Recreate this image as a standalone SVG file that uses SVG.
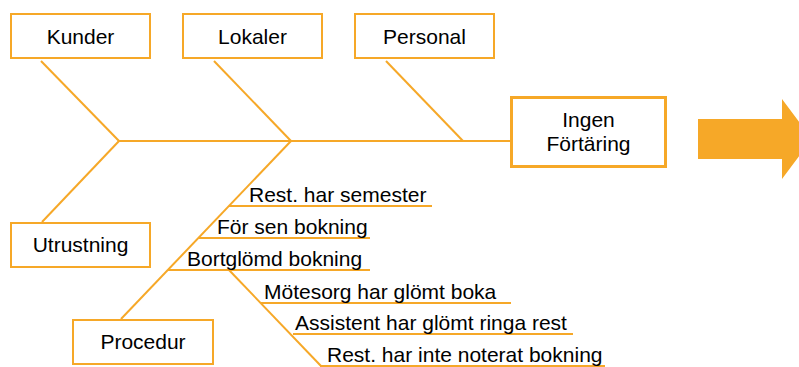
<svg xmlns="http://www.w3.org/2000/svg" width="799" height="367" viewBox="0 0 799 367">
  <style>
    .box { fill: #ffffff; stroke: #F6A828; stroke-width: 2; }
    .effect { fill: #ffffff; stroke: #F6A828; stroke-width: 3; }
    .bone { fill: none; stroke: #F6A828; stroke-width: 2; }
    .label { font-family: "Liberation Sans", Arial, sans-serif; font-size: 21px; fill: #000000; }
    .mid { text-anchor: middle; }
  </style>
  <rect width="799" height="367" fill="#ffffff"/>

  <!-- connectors: spine, category bones and cause branches -->
  <g id="connectors" class="bone">
    <line x1="119" y1="141" x2="510" y2="141"/>
    <line x1="41" y1="61" x2="119" y2="141"/>
    <line x1="214" y1="61" x2="291" y2="141"/>
    <line x1="386" y1="61" x2="463" y2="141"/>
    <line x1="42" y1="222" x2="119" y2="141"/>
    <line x1="121" y1="319" x2="291" y2="141"/>
    <!-- causes under Procedur -->
    <polyline points="229,206 432,206"/>
    <polyline points="199,238 370,238"/>
    <polyline points="168,270 370,270"/>
    <!-- sub-causes of Bortglömd bokning -->
    <line x1="229" y1="270" x2="321" y2="366"/>
    <polyline points="261,303 511,303"/>
    <polyline points="293,334 573,334"/>
    <polyline points="320,366 605,366"/>
  </g>

  <g id="kunder">
    <rect class="box" x="11" y="14" width="139" height="44"/>
    <text class="label mid" x="80.5" y="43.5">Kunder</text>
  </g>
  <g id="lokaler">
    <rect class="box" x="183" y="14" width="139" height="44"/>
    <text class="label mid" x="252.5" y="43.5">Lokaler</text>
  </g>
  <g id="personal">
    <rect class="box" x="355" y="14" width="139" height="44"/>
    <text class="label mid" x="424.5" y="43.5">Personal</text>
  </g>
  <g id="utrustning">
    <rect class="box" x="11" y="223" width="139" height="44"/>
    <text class="label mid" x="80.5" y="252">Utrustning</text>
  </g>
  <g id="procedur">
    <rect class="box" x="73" y="320" width="140" height="44"/>
    <text class="label mid" x="143" y="349">Procedur</text>
  </g>
  <g id="ingen-fortaring">
    <rect class="effect" x="511.5" y="97.5" width="154" height="69"/>
    <text class="label mid" x="588.5" y="127">Ingen</text>
    <text class="label mid" x="588.5" y="151">Förtäring</text>
  </g>

  <g id="causes">
    <text class="label" x="249" y="202">Rest. har semester</text>
    <text class="label" x="217" y="234">För sen bokning</text>
    <text class="label" x="187" y="266">Bortglömd bokning</text>
    <text class="label" x="264" y="299">Mötesorg har glömt boka</text>
    <text class="label" x="295" y="330">Assistent har glömt ringa rest</text>
    <text class="label" x="327" y="362">Rest. har inte noterat bokning</text>
  </g>

  <!-- block arrow leading off to the right -->
  <g id="result-arrow">
    <polygon points="698,119 782,119 782,99 812,139 782,179 782,159 698,159" fill="#F6A828"/>
  </g>
</svg>
